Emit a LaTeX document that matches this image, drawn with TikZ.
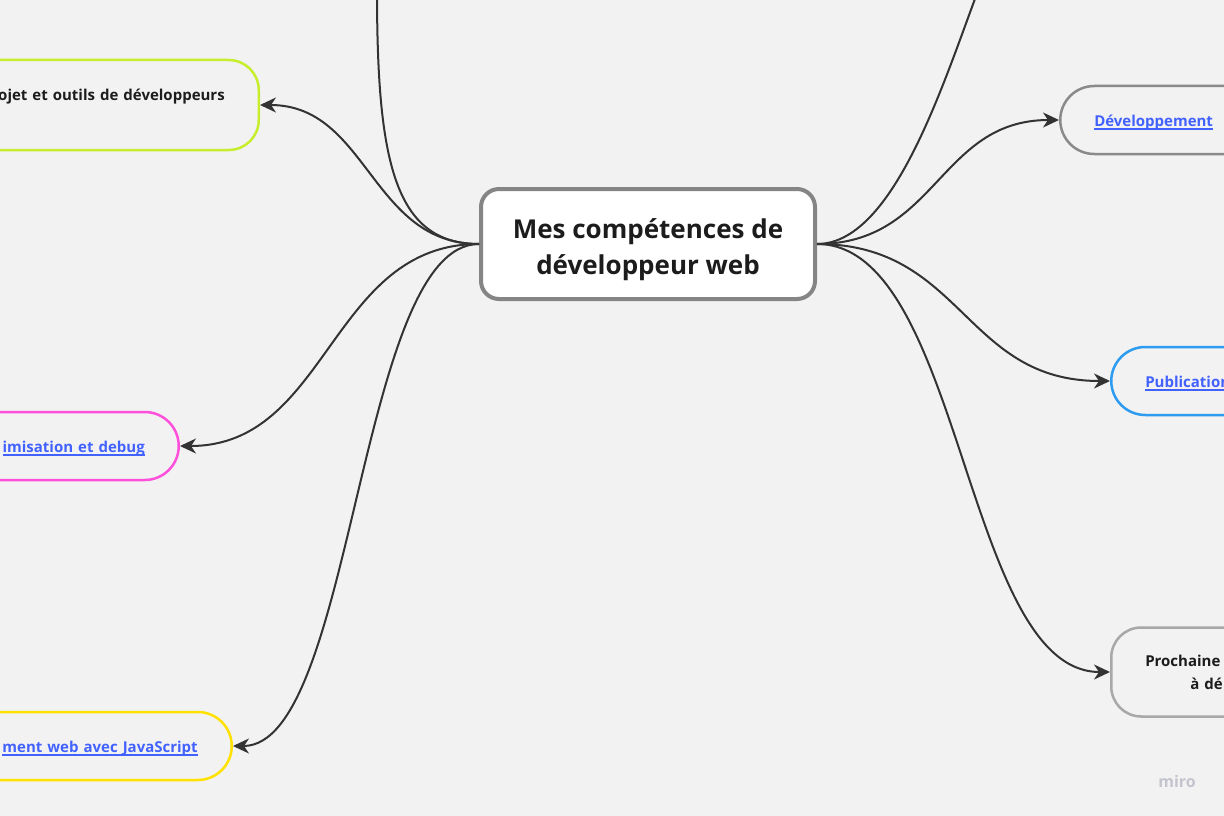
\documentclass[tikz,border=0pt]{standalone}
\usepackage{fontspec}
\setmainfont{Open Sans}
\usetikzlibrary{arrows.meta}
\definecolor{bgc}{HTML}{F2F2F2}
\definecolor{txt}{HTML}{1C1C1C}
\definecolor{lnk}{HTML}{4262FF}
\definecolor{ln}{HTML}{333333}
\definecolor{cgr}{HTML}{858585}
\definecolor{lime}{HTML}{C6EE2D}
\definecolor{pnk}{HTML}{FF50DC}
\definecolor{ylw}{HTML}{FFE100}
\definecolor{gry}{HTML}{8A8A8A}
\definecolor{blu}{HTML}{2D9BF0}
\definecolor{lgry}{HTML}{A8A8A8}
\definecolor{wmk}{HTML}{C4C4CE}
\newcommand\linkul[1]{\setbox0\hbox{#1}\rlap{\rule[-3.2pt]{\wd0}{1.3pt}}\box0}
\begin{document}
\begin{tikzpicture}[x=1pt,y=-1pt,
  box/.style={draw, line width=2.5pt, fill=bgc, text=txt, inner xsep=34pt, minimum height=68pt,
    rounded corners=34pt, text width=360pt, font=\bfseries\fontsize{15}{23}\selectfont},
  lbox/.style={box, anchor=east, align=right},
  rbox/.style={box, anchor=west, align=left},
  link/.style={text=lnk, text height=14pt, text depth=1pt},
  conn/.style={draw=ln, line width=2pt, -{Stealth[length=16pt,width=15pt,inset=5pt]}}]
\fill[bgc] (0,0) rectangle (1224,816);
\useasboundingbox (0,0) rectangle (1224,816);
\clip (0,0) rectangle (1224,816);
\node[draw=cgr, line width=4pt, fill=white, rounded corners=18pt, minimum width=334pt, minimum height=110pt,
  align=center, text=txt, font=\bfseries\fontsize{26}{36}\selectfont] (skills) at (648,244) {\rule{0pt}{32pt}Mes compétences de\\développeur web};
\node[lbox, draw=lime, minimum height=90pt, rounded corners=30pt, text height=12pt, text depth=22pt] (tools) at (260,105) {ojet et outils de développeurs};
\node[lbox, link, draw=pnk] (optim) at (180,446) {\linkul{imisation et debug}};
\node[lbox, link, draw=ylw] (jsdev) at (233,746) {\linkul{ment web avec JavaScript}};
\node[rbox, link, draw=gry] (dev) at (1059,120) {\linkul{Développement}};
\node[rbox, link, draw=blu] (pub) at (1110,381) {\linkul{Publication}};
\node[rbox, draw=lgry, minimum height=89pt, rounded corners=30pt] (next) at (1110,672) {Prochaine\\\hspace*{45pt}à dé};
\node[text=wmk, font=\bfseries\fontsize{16}{16}\selectfont] (miro) at (1177,781) {miro};
\coordinate (uplft) at (377,-20);
\coordinate (uprgt) at (990,-40);
\draw[conn] (skills.west) .. controls +(-85,0) and +(0,180) .. (uplft);
\draw[conn] (skills.west) .. controls +(-108,0) and +(108,0) .. (tools.east);
\draw[conn] (skills.west) .. controls +(-149,0) and +(149,0) .. (optim.east);
\draw[conn] (skills.west) .. controls +(-121,0) and +(121,0) .. (jsdev.east);
\draw[conn] (skills.east) .. controls +(82,0) and +(-40,100) .. (uprgt);
\draw[conn] (skills.east) .. controls +(120,0) and +(-120,0) .. (dev.west);
\draw[conn] (skills.east) .. controls +(146,0) and +(-146,0) .. (pub.west);
\draw[conn] (skills.east) .. controls +(146,0) and +(-146,0) .. (next.west);
\end{tikzpicture}
\end{document}
